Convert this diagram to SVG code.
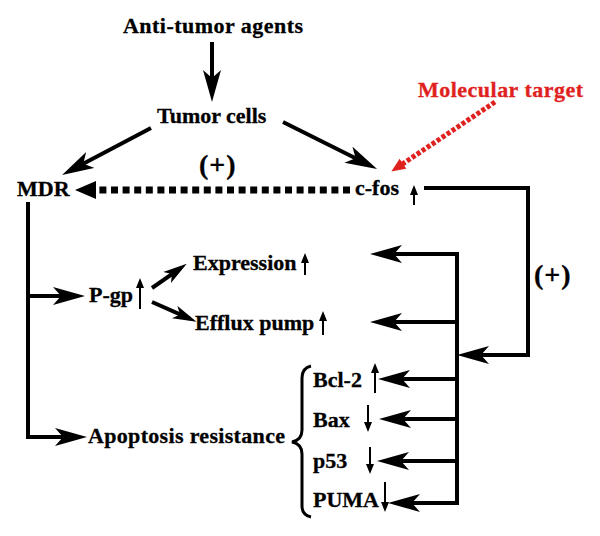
<svg xmlns="http://www.w3.org/2000/svg" width="600" height="536" viewBox="0 0 600 536">
<style>
text{font-family:"Liberation Serif","Times New Roman",serif;font-weight:bold;font-size:22px;fill:#000;stroke:#000;stroke-width:0.3}
.red{fill:#e0221f;stroke:#e0221f}
.plus{font-size:28px;letter-spacing:1px}
.ln{stroke:#000;stroke-width:4;fill:none}
.thin{stroke:#000;stroke-width:2;fill:none}
</style>
<defs>
<marker id="arr" markerUnits="userSpaceOnUse" viewBox="0 0 32 18" refX="22" refY="9" markerWidth="32" markerHeight="18" orient="auto">
<path d="M32,9 L0,0 L8,9 L0,18 Z" fill="#000"/>
</marker>
<marker id="arrS" markerUnits="userSpaceOnUse" viewBox="0 0 32 18" refX="22" refY="9" markerWidth="24" markerHeight="14" orient="auto">
<path d="M32,9 L0,0 L8,9 L0,18 Z" fill="#000"/>
</marker>
<marker id="tri" markerUnits="userSpaceOnUse" viewBox="0 0 10 8" refX="5" refY="4" markerWidth="10" markerHeight="8" orient="auto">
<path d="M10,4 L0,0 L0,8 Z" fill="#000"/>
</marker>
<marker id="redh" markerUnits="userSpaceOnUse" viewBox="0 0 14 12" refX="6" refY="6" markerWidth="14" markerHeight="12" orient="auto">
<path d="M14,6 L0,0 L0,12 Z" fill="#e0221f"/>
</marker>
</defs>

<g id="connectors">
<path class="ln" d="M212,42 V92" marker-end="url(#arr)"/>
<path class="ln" d="M151,128 L70.9,170.3" marker-end="url(#arr)"/>
<path class="ln" d="M283,122 L368.1,164.5" marker-end="url(#arr)"/>
<path d="M350,190 H99" stroke="#000" stroke-width="7" stroke-dasharray="7 4.6" fill="none"/>
<path d="M75,190 L96,181 L96,199 Z" fill="#000"/>
<path d="M495,102 L398,167" stroke="#e0221f" stroke-width="5" stroke-dasharray="4 2" fill="none" marker-end="url(#redh)"/>
<path class="ln" d="M28,202 V437 H77" marker-end="url(#arr)"/>
<path class="ln" d="M28,296 H75" marker-end="url(#arr)"/>
<path class="ln" d="M152,288 L180.6,268.1" marker-end="url(#arrS)"/>
<path class="ln" d="M152,302 L189.7,318.7" marker-end="url(#arrS)"/>
<path class="ln" d="M424,188 H528 V355 H467" marker-end="url(#arr)"/>
<path class="ln" d="M457,252 V505"/>
<path class="ln" d="M457,254 H380" marker-end="url(#arr)"/>
<path class="ln" d="M457,322 H380" marker-end="url(#arr)"/>
<path class="ln" d="M457,379 H388" marker-end="url(#arr)"/>
<path class="ln" d="M457,419 H389" marker-end="url(#arr)"/>
<path class="ln" d="M457,461 H387" marker-end="url(#arr)"/>
<path class="ln" d="M457,503 H398" marker-end="url(#arr)"/>
<path class="thin" d="M414,205 V190" marker-end="url(#tri)"/>
<path class="thin" d="M140,309 V283" marker-end="url(#tri)"/>
<path class="thin" d="M305,275 V258" marker-end="url(#tri)"/>
<path class="thin" d="M323,335 V316" marker-end="url(#tri)"/>
<path class="thin" d="M375,393 V368" marker-end="url(#tri)"/>
<path class="thin" d="M368,405 V427" marker-end="url(#tri)"/>
<path class="thin" d="M370,447 V469" marker-end="url(#tri)"/>
<path class="thin" d="M385,482 V507" marker-end="url(#tri)"/>
<path d="M311,366 Q302,368 302,378 V430 Q302,440 292,442 Q302,444 302,454 V506 Q302,515 311,517" stroke="#000" stroke-width="3" fill="none"/>
</g>

<g id="anti-tumor"><text x="123" y="33" font-size="23" textLength="180">Anti-tumor agents</text></g>
<g id="tumor-cells"><text x="157" y="123" font-size="23">Tumor cells</text></g>
<g id="mdr"><text x="17" y="196">MDR</text></g>
<g id="plus1"><text class="plus" x="199" y="174">(+)</text></g>
<g id="cfos"><text x="355" y="195">c-fos</text></g>
<g id="molecular-target"><text class="red" x="418" y="97" textLength="165">Molecular target</text></g>
<g id="plus2"><text class="plus" x="534" y="284">(+)</text></g>
<g id="pgp"><text x="89" y="302">P-gp</text></g>
<g id="expression"><text x="193" y="270">Expression</text></g>
<g id="efflux"><text x="195" y="330">Efflux pump</text></g>
<g id="apoptosis"><text x="88" y="443" textLength="197">Apoptosis resistance</text></g>
<g id="bcl2"><text x="313" y="387">Bcl-2</text></g>
<g id="bax"><text x="313" y="427">Bax</text></g>
<g id="p53"><text x="313" y="468">p53</text></g>
<g id="puma"><text x="313" y="507">PUMA</text></g>
</svg>
